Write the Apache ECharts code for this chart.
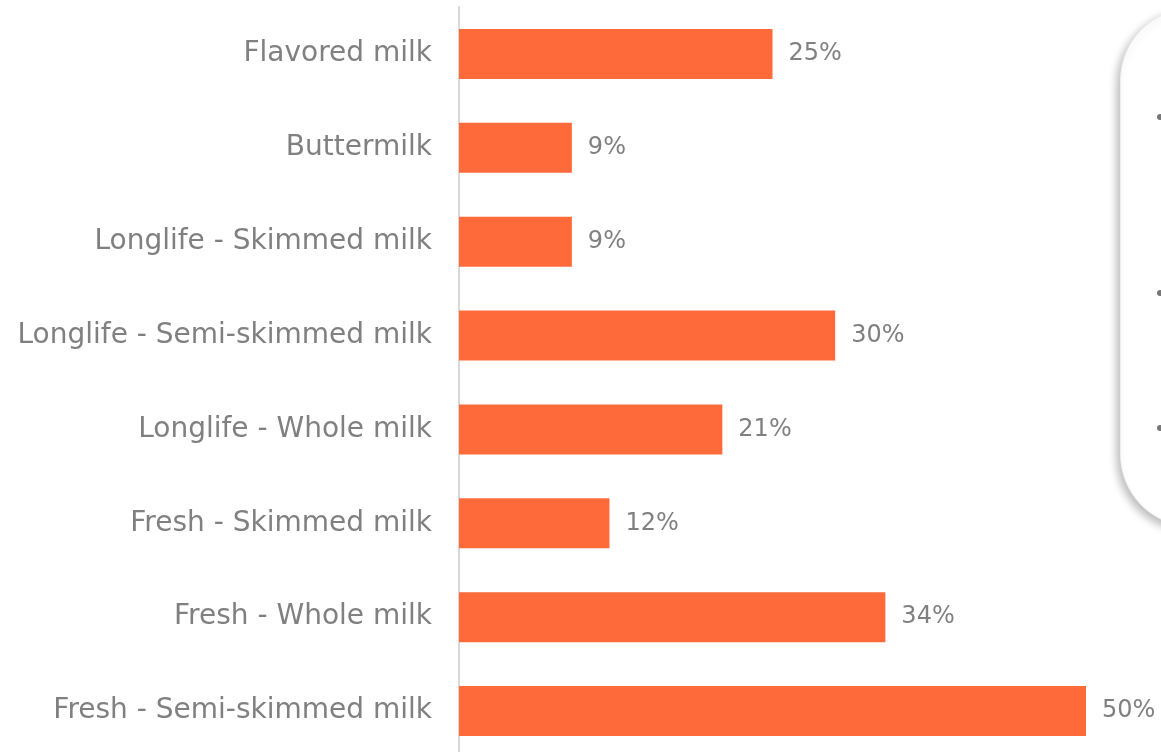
<!DOCTYPE html>
<html>
<head>
<meta charset="utf-8">
<title>Milk types</title>
<script src="https://cdn.jsdelivr.net/npm/echarts@6/dist/echarts.min.js"></script>
<style>
  html, body { margin: 0; padding: 0; background: #ffffff; overflow: hidden; }
  #chart { width: 1161px; height: 762px; }
</style>
</head>
<body>
<div id="chart"></div>
<script>
// Categories, listed bottom to top (category axis on y starts at the bottom)
const categories = [
  'Fresh - Semi-skimmed milk',
  'Fresh - Whole milk',
  'Fresh - Skimmed milk',
  'Longlife - Whole milk',
  'Longlife - Semi-skimmed milk',
  'Longlife - Skimmed milk',
  'Buttermilk',
  'Flavored milk'
];
// Share of respondents, in percent
const shares = [50, 34, 12, 21, 30, 9, 9, 25];

const FONT = 'DejaVu Sans';
const chart = echarts.init(document.getElementById('chart'), null, { renderer: 'canvas' });

// The plot runs a little past the bottom edge of the page, so the
// container is taller than the window and the overflow is hidden.
chart.setOption({
  animation: false,
  grid: { left: 459, width: 627, top: 7, height: 751, containLabel: false },
  xAxis: {
    type: 'value',
    min: 0,
    max: 50,
    show: false
  },
  yAxis: {
    type: 'category',
    data: categories,
    axisLine: { show: true, lineStyle: { color: '#d9d9d9', width: 2 } },
    axisTick: { show: false },
    axisLabel: {
      margin: 27,
      color: '#808080',
      fontFamily: FONT,
      fontSize: 28
    }
  },
  series: [{
    type: 'bar',
    data: shares,
    barWidth: 50,
    itemStyle: { color: '#ff6a3a' },
    label: {
      show: true,
      position: 'right',
      distance: 16,
      formatter: p => p.value + '%',
      color: '#808080',
      fontFamily: FONT,
      fontSize: 24
    }
  }],
  graphic: [
    {
      type: 'rect',
      left: 1120,
      top: 8,
      shape: { width: 200, height: 518, r: 72 },
      style: {
        fill: '#ffffff',
        stroke: '#eeeeee',
        lineWidth: 1,
        shadowBlur: 10,
        shadowOffsetX: -3,
        shadowOffsetY: 4,
        shadowColor: 'rgba(0,0,0,0.28)'
      },
      z: 10
    },
    { type: 'circle', shape: { cx: 1160, cy: 117, r: 3 }, style: { fill: '#777777' }, z: 11 },
    { type: 'circle', shape: { cx: 1160, cy: 293, r: 3 }, style: { fill: '#777777' }, z: 11 },
    { type: 'circle', shape: { cx: 1160, cy: 428, r: 3 }, style: { fill: '#777777' }, z: 11 }
  ]
});
</script>
</body>
</html>
